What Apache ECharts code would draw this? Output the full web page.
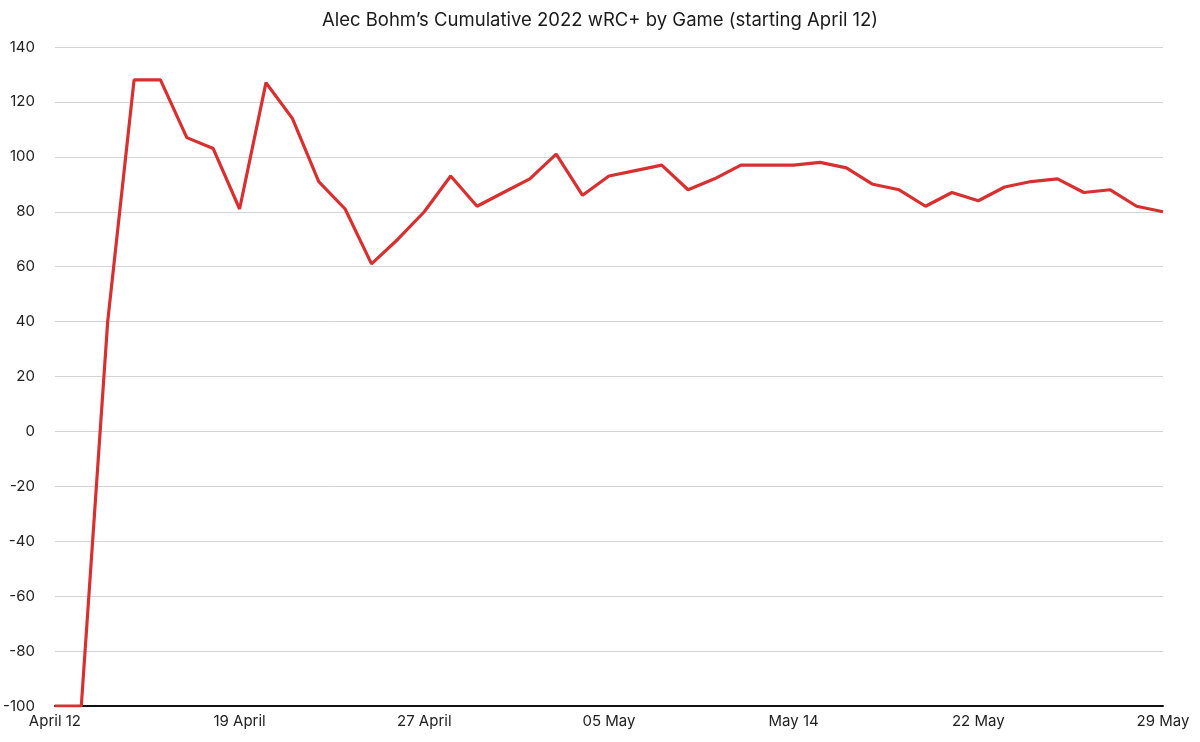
<!DOCTYPE html>
<html>
<head>
<meta charset="utf-8">
<title>Alec Bohm wRC+</title>
<script src="https://cdn.jsdelivr.net/npm/echarts@6/dist/echarts.min.js"></script>
<style>
    html, body { margin: 0; padding: 0; background: #fff; }
    #chart { width: 1200px; height: 742px; }
</style>
</head>
<body>
<div id="chart"></div>
<script>
// 每场比赛的累计 wRC+ (从 4 月 12 日开始)
const games = [];
for (let g = 1; g <= 43; g++) games.push('G' + g);

const wrcPlus = [
    -100, -100, 40, 128, 128, 107, 103, 81, 127, 114,
    91, 81, 61, 70, 80, 93, 82, 87, 92, 101,
    86, 93, 95, 97, 88, 92, 97, 97, 97, 98,
    96, 90, 88, 82, 87, 84, 89, 91, 92, 87,
    88, 82, 80
];

// 每 7 场显示一个日期
const tickLabels = ['April 12', '19 April', '27 April', '05 May', 'May 14', '22 May', '29 May'];

const chart = echarts.init(document.getElementById('chart'));
chart.setOption({
    animation: false,
    backgroundColor: '#fff',
    textStyle: { fontFamily: 'Inter, "Noto Sans", sans-serif' },
    title: {
        text: 'Alec Bohm\u2019s Cumulative 2022 wRC+ by Game (starting April 12)',
        left: 'center',
        top: 6,
        textStyle: { fontSize: 18.5, fontWeight: 'normal', color: '#1a1a1a', fontFamily: 'Inter, sans-serif' }
    },
    grid: { left: 54, right: 37, top: 47, bottom: 36, containLabel: false },
    xAxis: {
        type: 'category',
        data: games,
        boundaryGap: false,
        axisLine: { onZero: false, lineStyle: { color: '#111', width: 2 } },
        axisTick: { show: false },
        axisLabel: {
            interval: 6,
            margin: 8,
            fontSize: 15,
            color: '#222',
            formatter: (value, index) => (index % 7 === 0 ? tickLabels[index / 7] : '')
        },
        splitLine: { show: false }
    },
    yAxis: {
        type: 'value',
        min: -100,
        max: 140,
        interval: 20,
        axisLine: { show: false },
        axisTick: { show: false },
        axisLabel: { fontSize: 15, color: '#222', margin: 20 },
        splitLine: { lineStyle: { color: '#d4d4d4', width: 1 } }
    },
    series: [{
        type: 'line',
        data: wrcPlus,
        showSymbol: false,
        lineStyle: { color: '#d83030', width: 3.2 },
        itemStyle: { color: '#d83030' }
    }]
});
</script>
</body>
</html>
